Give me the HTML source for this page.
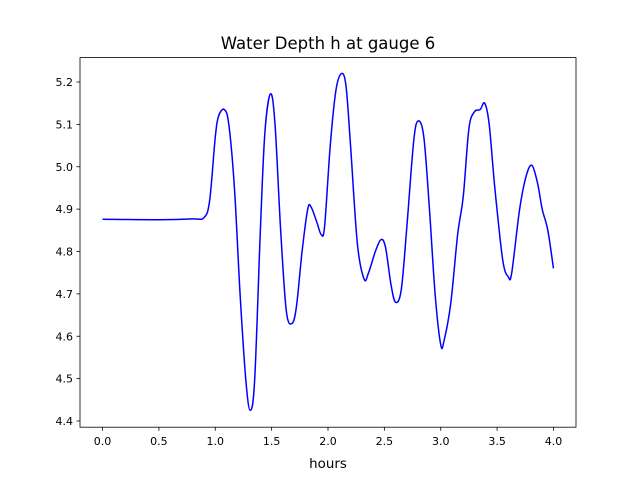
<!DOCTYPE html>
<html><head><meta charset="utf-8"><style>
body{margin:0;background:#fff;}
svg text{font-family:"DejaVu Sans","Liberation Sans",sans-serif;fill:#000;}
</style></head><body>
<svg id="chart" width="640" height="480" viewBox="0 0 640 480" xmlns="http://www.w3.org/2000/svg">
<rect width="640" height="480" fill="#fff"/>
<text x="328" y="49" font-size="16.5" text-anchor="middle">Water Depth h at gauge 6</text>
<g id="axes"></g>
<rect x="80" y="57.6" width="496" height="369.6" fill="none" stroke="#000" stroke-width="0.8"/>
<text x="328" y="468" font-size="13.4" text-anchor="middle">hours</text>
</svg>
<script>
const hours=[0,0.5,0.8,0.9,0.95,1.0,1.03,1.08,1.12,1.17,1.22,1.27,1.31,1.35,1.40,1.44,1.49,1.53,1.58,1.63,1.68,1.72,1.77,1.82,1.85,1.9,1.94,1.97,2.02,2.07,2.12,2.16,2.2,2.26,2.32,2.36,2.42,2.47,2.51,2.56,2.6,2.65,2.7,2.76,2.8,2.85,2.9,2.95,3.0,3.03,3.09,3.15,3.2,3.25,3.3,3.35,3.39,3.43,3.48,3.55,3.6,3.63,3.7,3.76,3.81,3.86,3.9,3.95,4.0];
const depth=[4.876,4.875,4.877,4.88,4.92,5.07,5.12,5.135,5.10,4.95,4.70,4.50,4.425,4.50,4.85,5.08,5.172,5.10,4.85,4.66,4.63,4.67,4.80,4.90,4.905,4.87,4.84,4.86,5.05,5.18,5.22,5.19,5.05,4.82,4.735,4.75,4.80,4.828,4.81,4.72,4.68,4.71,4.86,5.06,5.108,5.07,4.90,4.70,4.58,4.59,4.68,4.84,4.93,5.09,5.13,5.135,5.15,5.10,4.95,4.78,4.74,4.75,4.90,4.98,5.003,4.96,4.90,4.85,4.76];
const xTicks=[0.0,0.5,1.0,1.5,2.0,2.5,3.0,3.5,4.0];
const yTicks=[4.4,4.5,4.6,4.7,4.8,4.9,5.0,5.1,5.2];
const NS="http://www.w3.org/2000/svg";
const xs=v=>80+(v+0.2)/4.4*496;
const ys=v=>421-(v-4.4)*423.75;
const g=document.getElementById('axes');
function mk(t,a){const e=document.createElementNS(NS,t);for(const k in a)e.setAttribute(k,a[k]);return e;}
xTicks.forEach(t=>{
  const l=mk('line',{x1:xs(t),x2:xs(t),y1:427.2,y2:430.7,stroke:'#000','stroke-width':0.8});
  
  
  g.appendChild(l);
  const tx=mk('text',{x:xs(t),y:445,'font-size':11,'text-anchor':'middle'});
  
  
  tx.textContent=t.toFixed(1);g.appendChild(tx);
});
yTicks.forEach(t=>{
  const l=mk('line',{x1:76.5,x2:80,y1:ys(t),y2:ys(t),stroke:'#000','stroke-width':0.8});
  
  
  g.appendChild(l);
  const tx=mk('text',{x:73,y:ys(t)+4,'font-size':11,'text-anchor':'end'});
  
  
  tx.textContent=t.toFixed(1);g.appendChild(tx);
});
const P=hours.map((h,i)=>[xs(h),ys(depth[i])]);
let d='M'+P[0][0]+','+P[0][1];
for(let i=0;i<P.length-1;i++){
  const p0=P[Math.max(0,i-1)],p1=P[i],p2=P[i+1],p3=P[Math.min(P.length-1,i+2)];
  const c1=[p1[0]+(p2[0]-p0[0])/6,p1[1]+(p2[1]-p0[1])/6];
  const c2=[p2[0]-(p3[0]-p1[0])/6,p2[1]-(p3[1]-p1[1])/6];
  d+=`C${c1[0]},${c1[1]} ${c2[0]},${c2[1]} ${p2[0]},${p2[1]}`;
}
const path=mk('path',{d:d,fill:'none',stroke:'#0000ff','stroke-width':1.5});


g.appendChild(path);
</script>
</body></html>
